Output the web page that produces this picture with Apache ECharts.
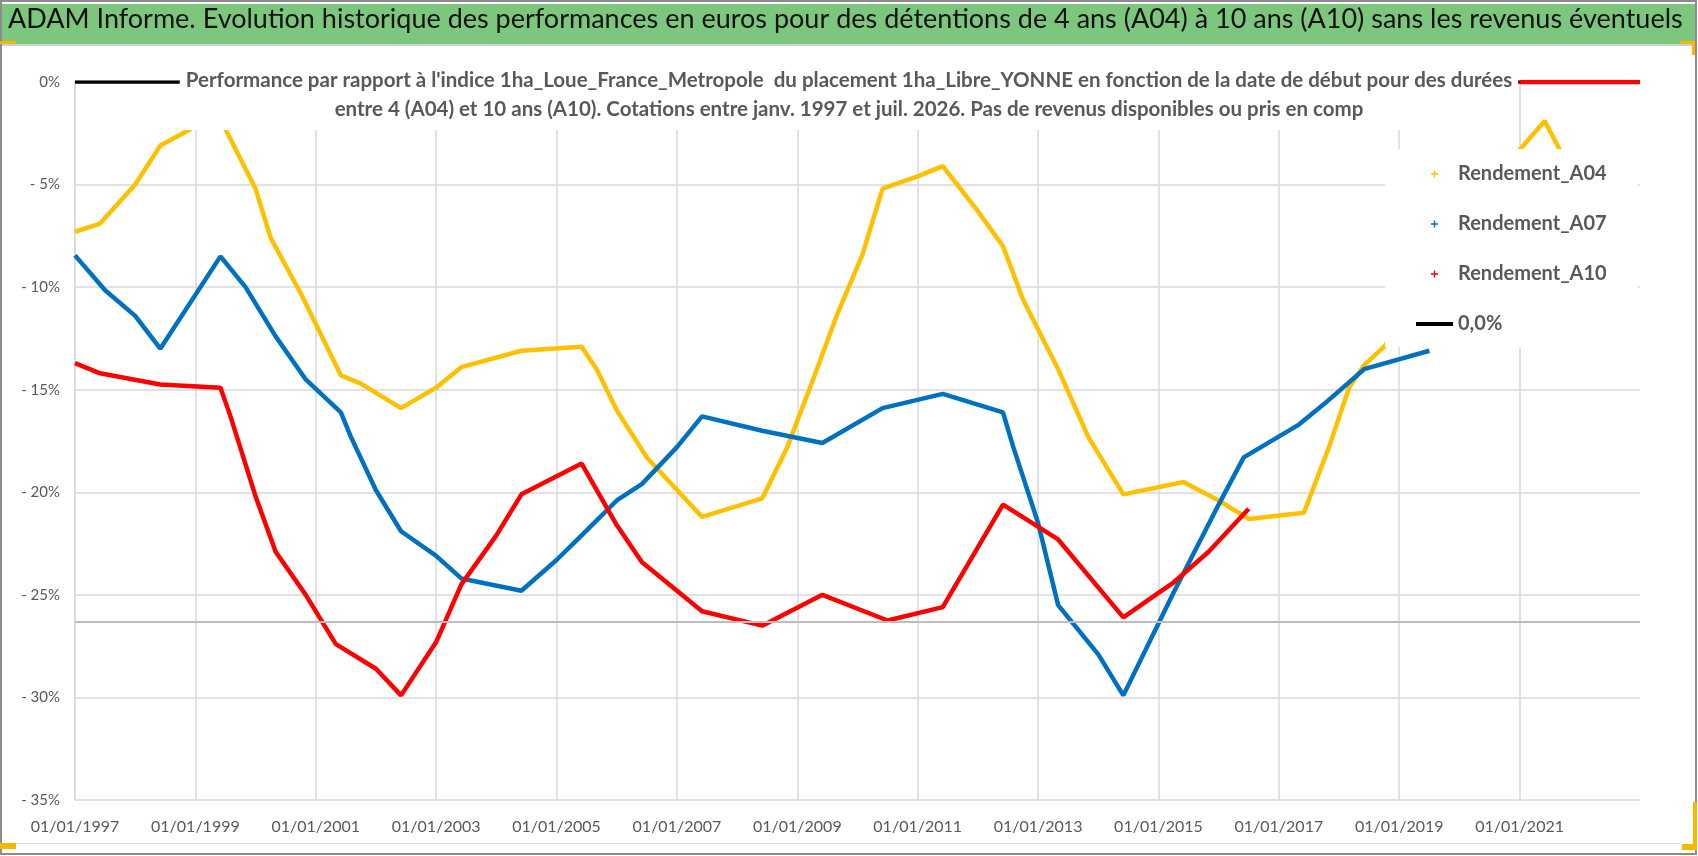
<!DOCTYPE html>
<html>
<head>
    <meta charset="utf-8">
    <title>ADAM Informe - Rendements A04 A07 A10</title>
    <script src="https://cdn.jsdelivr.net/npm/echarts@6/dist/echarts.min.js"></script>
    <style>
        html, body { margin: 0; padding: 0; background: #fff; }
        #main { width: 1698px; height: 856px; }
    </style>
</head>
<body>
    <div id="main"></div>
    <script type="text/javascript">
        // dates de debut (AAAA-MM) et rendements en %
        var a04Dates = ['1997-01', '1997-06', '1998-01', '1998-06', '1998-12', '1999-04', '1999-07', '2000-01', '2000-04', '2000-10',
            '2001-06', '2001-10', '2002-06', '2003-01', '2003-06', '2004-06', '2005-06', '2005-09', '2006-01', '2006-07',
            '2007-06', '2008-06', '2008-11', '2009-04', '2009-09', '2010-02', '2010-06', '2011-01', '2011-06', '2012-01',
            '2012-06', '2012-10', '2013-05', '2013-11', '2014-06', '2015-06', '2016-01', '2016-07', '2017-06', '2017-11',
            '2018-03', '2018-06', '2018-10', '2019-06', '2020-06', '2021-01', '2021-06', '2021-09', '2022-07'];
        var a04Values = [-7.3, -6.9, -5.0, -3.1, -2.3, -1.2, -2.3, -5.2, -7.6, -10.3,
            -14.3, -14.7, -15.9, -14.9, -13.9, -13.1, -12.9, -14.0, -16.0, -18.3,
            -21.2, -20.3, -17.8, -14.6, -11.3, -8.4, -5.2, -4.6, -4.1, -6.3,
            -8.0, -10.6, -14.0, -17.3, -20.1, -19.5, -20.4, -21.3, -21.0, -17.8,
            -14.9, -13.8, -12.9, -10.0, -6.0, -3.3, -1.9, -3.3, -8.0];

        var a07Dates = ['1997-01', '1997-07', '1998-01', '1998-06', '1999-06', '1999-11', '2000-05', '2000-11', '2001-06', '2001-08',
            '2002-01', '2002-06', '2003-01', '2003-06', '2004-06', '2005-01', '2005-06', '2006-01', '2006-06', '2007-01',
            '2007-06', '2008-06', '2009-06', '2010-06', '2011-06', '2012-06', '2012-08', '2013-01', '2013-05', '2014-01',
            '2014-06', '2015-01', '2015-04', '2016-01', '2016-06', '2017-05', '2017-10', '2018-06', '2019-07'];
        var a07Values = [-8.45, -10.15, -11.4, -13.0, -8.5, -10.0, -12.4, -14.5, -16.1, -17.3,
            -19.9, -21.9, -23.1, -24.2, -24.8, -23.3, -22.1, -20.4, -19.6, -17.8,
            -16.3, -17.0, -17.6, -15.9, -15.2, -16.1, -17.75, -21.5, -25.5, -27.9,
            -29.9, -26.4, -24.9, -20.6, -18.3, -16.7, -15.7, -14.0, -13.1];

        var a10Dates = ['1997-01', '1997-06', '1998-06', '1999-06', '1999-08', '2000-01', '2000-05', '2000-11', '2001-05', '2002-01',
            '2002-06', '2003-01', '2003-06', '2004-01', '2004-06', '2005-06', '2006-01', '2006-06', '2007-06', '2008-06',
            '2009-06', '2010-07', '2011-06', '2012-06', '2013-05', '2014-06', '2015-01', '2015-04', '2015-11', '2016-07',
            '2018-01', '2021-01', '2023-01'];
        var a10Values = [-13.7, -14.2, -14.75, -14.9, -16.3, -20.2, -22.9, -25.0, -27.4, -28.6,
            -29.9, -27.3, -24.5, -22.1, -20.1, -18.6, -21.6, -23.4, -25.8, -26.5,
            -25.0, -26.25, -25.6, -20.6, -22.3, -26.1, -24.9, -24.4, -22.9, -20.8,
            null, 0, 0];

        var zeroDates = ['1997-01', '2023-01'];
        var zeroValues = [0, 0];
        var refLevel = -26.3;

        var seriesNames = ['Rendement_A04', 'Rendement_A07', 'Rendement_A10', '0,0%'];
        var yTicks = [0, -5, -10, -15, -20, -25, -30, -35];

        var fontName = 'Lato, "Open Sans", sans-serif';
        var plusIcon = 'path://M4,0H6V4H10V6H6V10H4V6H0V4H4Z';
        var lineIcon = 'path://M0,0H37V4H0Z';

        function toYear(s) {
            var p = s.split('-');
            return +p[0] + (p[1] - 1) / 12;
        }
        function pairs(dates, values) {
            return dates.map(function (d, i) {
                return [toYear(d), values[i] == null ? '-' : values[i]];
            });
        }

        var myChart = echarts.init(document.getElementById('main'));

        var option = {
            backgroundColor: '#fff',
            animation: false,
            graphic: [
                { type: 'rect', z: 0, shape: { x: 1, y: 1, width: 1695, height: 853 }, style: { fill: 'none', stroke: '#8c8c8c', lineWidth: 2 } },
                { type: 'rect', z: 0, shape: { x: 2, y: 4, width: 1693, height: 40 }, style: { fill: '#7dc67d' } },
                { type: 'rect', z: 0, shape: { x: 2, y: 44, width: 1693, height: 2 }, style: { fill: '#d0d0d0' } },
                { type: 'rect', z: 0, shape: { x: 16, y: 843, width: 1664, height: 1 }, style: { fill: '#d9d9d9' } },
                // poignees de selection (coins)
                { type: 'rect', z: 1, shape: { x: 0, y: 41, width: 16, height: 3 }, style: { fill: '#f5b800' } },
                { type: 'rect', z: 1, shape: { x: 1680, y: 41, width: 15, height: 3 }, style: { fill: '#f5b800' } },
                { type: 'rect', z: 1, shape: { x: 1692, y: 41, width: 3, height: 14 }, style: { fill: '#f5b800' } },
                { type: 'rect', z: 1, shape: { x: 0, y: 843, width: 16, height: 6 }, style: { fill: '#f5b800' } },
                { type: 'rect', z: 1, shape: { x: 1693, y: 802, width: 4, height: 48 }, style: { fill: '#f5b800' } },
                { type: 'rect', z: 1, shape: { x: 1682, y: 844, width: 15, height: 6 }, style: { fill: '#f5b800' } }
            ],
            title: [{
                text: 'ADAM Informe. Evolution historique des performances en euros pour des détentions de 4 ans (A04) à 10 ans (A10) sans les revenus éventuels',
                left: 8,
                top: 6,
                padding: 0,
                textStyle: { fontFamily: fontName, fontSize: 27, fontWeight: 'normal', color: '#111' }
            }, {
                text: "Performance par rapport à l'indice 1ha_Loue_France_Metropole  du placement 1ha_Libre_YONNE en fonction de la date de début pour des durées\nentre 4 (A04) et 10 ans (A10). Cotations entre janv. 1997 et juil. 2026. Pas de revenus disponibles ou pris en comp",
                left: 'center',
                top: 60,
                backgroundColor: '#fff',
                padding: [6, 6],
                textStyle: { fontFamily: fontName, fontSize: 20.5, fontWeight: 'bold', color: '#595959', lineHeight: 29 }
            }],
            legend: {
                orient: 'vertical',
                left: 1385,
                top: 149,
                backgroundColor: '#fff',
                padding: [13, 31, 11, 31],
                itemWidth: 37,
                itemHeight: 7,
                itemGap: 26,
                selectedMode: false,
                textStyle: { fontFamily: fontName, fontSize: 20, fontWeight: 'bold', color: '#595959', lineHeight: 24 },
                data: [
                    { name: seriesNames[0], icon: plusIcon },
                    { name: seriesNames[1], icon: plusIcon },
                    { name: seriesNames[2], icon: plusIcon },
                    { name: seriesNames[3], icon: lineIcon }
                ]
            },
            grid: { left: 75, right: 58, top: 82, bottom: 56 },
            xAxis: {
                type: 'value',
                min: 1997,
                max: 2023,
                interval: 2,
                axisLine: { show: true, lineStyle: { color: '#d9d9d9', width: 1.5 } },
                axisTick: { show: false },
                splitLine: { show: true, showMaxLine: false, lineStyle: { color: '#d9d9d9', width: 1.5 } },
                axisLabel: {
                    showMaxLabel: false,
                    margin: 19,
                    fontFamily: fontName,
                    fontSize: 16,
                    color: '#595959',
                    formatter: function (v) { return '01/01/' + v; }
                }
            },
            yAxis: {
                type: 'value',
                min: yTicks[yTicks.length - 1],
                max: yTicks[0],
                interval: 5,
                axisLine: { show: true, lineStyle: { color: '#d9d9d9', width: 1.5 } },
                axisTick: { show: false },
                splitLine: { show: true, lineStyle: { color: '#d9d9d9', width: 1.5 } },
                axisLabel: {
                    margin: 15,
                    fontFamily: fontName,
                    fontSize: 15,
                    color: '#595959',
                    formatter: function (v) { return v === 0 ? '0%' : '- ' + (-v) + '%'; }
                }
            },
            series: [{
                name: seriesNames[3],
                type: 'line',
                symbol: 'none',
                data: pairs(zeroDates, zeroValues),
                lineStyle: { color: '#000', width: 3.5 },
                itemStyle: { color: '#000' },
                markLine: {
                    silent: true,
                    symbol: 'none',
                    label: { show: false },
                    lineStyle: { color: '#bdbdbd', width: 2, type: 'solid' },
                    data: [{ yAxis: refLevel }]
                }
            }, {
                name: seriesNames[0],
                type: 'line',
                symbol: 'none',
                data: pairs(a04Dates, a04Values),
                lineStyle: { color: '#ffc000', width: 4.5 },
                itemStyle: { color: '#ffc000' }
            }, {
                name: seriesNames[1],
                type: 'line',
                symbol: 'none',
                data: pairs(a07Dates, a07Values),
                lineStyle: { color: '#0070c0', width: 4.5 },
                itemStyle: { color: '#0070c0' }
            }, {
                name: seriesNames[2],
                type: 'line',
                symbol: 'none',
                connectNulls: false,
                data: pairs(a10Dates, a10Values),
                lineStyle: { color: '#ff0000', width: 4.5 },
                itemStyle: { color: '#ff0000' }
            }]
        };

        myChart.setOption(option);
    </script>
</body>
</html>
